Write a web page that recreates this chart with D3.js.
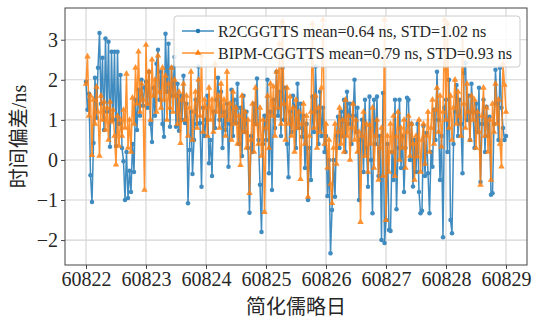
<!DOCTYPE html>
<html>
<head>
<meta charset="utf-8">
<script src="https://cdn.jsdelivr.net/npm/d3@7"></script>
<style>
  html, body { margin: 0; padding: 0; background: #fff; }
  svg text { font-family: "Liberation Serif", "Noto Sans CJK SC", serif; fill: #262626; }
</style>
</head>
<body>
<svg id="chart" width="533" height="322"></svg>
<script>
// Sampling: one value every 0.025 d (36 min), MJD 60822.000 .. 60829.000
const mjdStart = 60822;
const sampleStep = 0.025;

// Time deviation of the R2CGGTTS solution (ns)
const r2cggtts = [
  // 60822
  1.95, 1.25, 1.65, -0.38, -1.05, 0.42, 2.05, 1.05, 2.3, 3.17,
  1.4, 2.55, 0.75, 3.03, 1.2, 2.95, 0.33, 2.7, 1.0, 2.7,
  0.35, 2.7, 0.9, 2.12, 0.3, -0.03, -1.0, 0.2, -0.95, -0.27,
  -0.8, 0.4, -0.3, 1.5, 0.75, 1.75, 1.1, 2.0, 1.35, 1.8,
  // 60823
  1.95, 1.3, 2.2, 0.9, 0.45, 1.8, 1.1, 2.4, 2.75, 1.5,
  2.2, 0.9, 0.58, 3.15, 1.7, 2.9, 0.83, 2.3, 1.6, 2.57,
  0.83, 1.9, 0.73, 1.6, 1.0, 2.1, 0.92, 1.4, -1.08, 0.25,
  1.2, -0.35, 0.5, 1.5, 0.9, 2.33, 0.92, -0.67, 1.3, 0.6,
  // 60824
  1.0, 1.6, -0.08, 0.5, -0.4, 1.2, 0.8, 1.5, 2.05, 1.0,
  1.7, 0.3, 1.2, 0.75, 1.4, -0.17, 0.9, 1.75, 0.6, 1.5,
  0.92, 1.9, 0.4, 1.3, 0.1, 1.6, 0.7, 1.2, 0.3, -1.32,
  0.6, 0.2, 1.4, 0.9, 2.03, 0.5, -0.62, -1.8, 0.4, 1.1,
  // 60825
  0.5, 2.0, -0.33, 1.2, -0.75, 1.5, 0.8, 2.2, 1.1, 1.7,
  0.6, 2.3, 1.0, 1.8, 0.4, -0.43, 1.2, 0.7, 1.6, 1.33,
  0.3, 1.9, 0.8, 1.4, 0.58, 1.1, -0.2, 0.9, -1.0, 0.3,
  -0.5, 1.58, 0.7, 2.33, 1.2, 0.4, 1.7, 0.6, 1.3, 0.2,
  // 60826
  0.6, -0.9, 0.0, -2.33, -1.25, 0.0, -0.92, 0.6, 1.08, 0.3,
  1.2, 0.6, 1.5, 0.2, 1.7, 0.9, 1.4, 0.4, 1.1, 2.0,
  0.7, 1.3, -1.0, 0.5, 1.0, -0.3, 1.5, 0.3, -0.67, 1.58,
  0.0, -1.33, 1.5, 0.4, 1.58, -0.4, 0.6, -2.0, 1.67, -2.07,
  // 60827
  -1.5, 0.4, -1.75, -1.77, 0.2, -0.5, 1.5, -1.23, 0.3, 1.5,
  -0.2, 0.6, -0.8, 0.3, 1.55, 1.5, 0.0, 0.9, -0.66, 0.5,
  -0.3, 0.9, -0.8, -1.33, -1.27, 0.85, -0.4, 0.67, -0.33, -1.33,
  0.2, -0.17, 1.25, 0.5, 2.2, 1.0, -0.5, 0.6, -1.93, 1.3,
  // 60828
  1.5, 0.2, 2.0, -1.5, -1.83, 0.4, 1.2, 1.87, 0.6, 1.5,
  0.9, -0.33, 2.17, 2.42, 1.0, 1.6, 0.5, 1.9, 1.2, 0.3,
  1.4, 0.7, 1.8, -0.55, 0.9, 1.5, 0.2, 1.33, 0.6, 1.08,
  -0.87, -0.83, 0.9, 2.25, 1.4, 0.5, 2.3, 1.3, 0.8, 0.5,
  // 60829
  0.6
];

// Time deviation of the BIPM CGGTTS files (ns)
const bipmCggtts = [
  // 60822
  1.9, 2.58, 1.1, 1.6, 0.12, 1.5, 0.9, 1.82, 1.2, 0.1,
  1.6, 1.0, 1.45, 0.75, 1.3, 0.5, 1.45, 0.95, 1.25, 0.6,
  -0.12, 1.1, 0.35, 1.0, 0.6, 1.25, 0.8, 2.15, 0.3, 1.0,
  0.2, 1.55, 0.9, 2.3, 1.4, 2.7, 1.2, 1.9, 1.5, -0.75,
  // 60823
  2.87, 1.4, 2.2, 1.0, 2.5, 1.6, 2.0, 1.2, 2.6, 1.7,
  1.3, 2.3, 1.5, 2.1, 1.0, 1.9, 1.3, 2.3, 1.2, 2.0,
  1.6, 0.9, 1.7, 0.42, 1.5, 1.9, 1.0, 1.6, 0.6, 1.3,
  2.2, 0.5, 1.2, 1.7, 0.8, 2.0, 1.1, 2.6, 0.7, 1.5,
  // 60824
  1.3, 0.6, 1.8, 1.0, 1.5, 0.7, 2.4, 1.2, 1.6, 0.8,
  1.9, 1.1, 1.5, 0.6, 2.2, 1.0, 1.4, 0.5, 1.7, 0.9,
  1.3, 0.4, 1.1, -0.13, 1.6, 0.7, 1.2, 0.3, 1.0, -0.83,
  0.5, 1.4, 0.2, 1.8, 0.9, 0.4, 1.3, 0.1, 1.0, -1.3,
  // 60825
  0.8, 1.6, 0.3, 1.9, 1.1, 1.83, 0.6, 2.2, 1.3, 2.9,
  0.9, 3.45, 1.4, 0.5, 1.8, 0.9, 1.58, 0.6, 1.3, 0.2,
  1.5, 0.8, 1.2, -0.48, 0.9, 1.4, 0.4, 1.1, -0.92, 0.6,
  1.2, 3.4, 0.8, 1.6, 0.3, 1.3, 0.7, 1.8, 3.5, 0.4,
  // 60826
  0.9, -0.2, 0.5, -0.6, -1.08, 0.3, 0.9, -0.1, 0.7, 1.3,
  0.4, 1.0, 0.2, 1.5, 0.6, 1.1, 0.0, 0.8, 1.4, 0.5,
  1.0, 0.2, 0.7, -1.55, 0.6, 1.2, 0.1, 0.9, -0.3, 0.87,
  0.4, 1.3, -0.2, 0.6, 1.0, -0.5, 0.3, 0.8, -0.4, 3.5,
  // 60827
  -1.5, 0.6, -0.3, 0.9, 0.2, 1.1, -0.4, 0.58, 1.2, 0.0,
  0.8, 0.3, 1.0, -0.2, 0.7, 1.1, 0.1, 0.9, 0.4, -0.5,
  0.6, 0.08, 1.0, -0.3, 0.5, 0.9, -0.1, 0.6, 1.2, 0.2,
  0.8, 1.5, 0.4, 1.25, 1.8, 0.7, 1.6, 0.33, 1.2, 3.5,
  // 60828
  1.0, 3.4, 0.8, 1.6, 0.5, 1.3, 2.0, 0.9, 1.7, 1.1,
  0.6, 3.3, 1.4, 0.8, 1.9, 1.2, 0.5, 1.6, 1.0, 1.5,
  0.3, 1.2, 0.7, -0.62, 1.1, 1.8, 0.6, 1.3, 0.2, 1.0,
  -0.5, 1.4, 0.7, 1.9, 0.9, 1.5, 0.4, -0.17, 2.4, 1.87,
  // 60829
  1.2
];

const xTicks = [60822, 60823, 60824, 60825, 60826, 60827, 60828, 60829];
const yTicks = [-2, -1, 0, 1, 2, 3];

const seriesNames = ["R2CGGTTS", "BIPM-CGGTTS"];
const seriesMeans = [0.64, 0.79];
const seriesStds = [1.02, 0.93];
const seriesColors = ["#1f77b4", "#ff7f0e"];

const xLabel = "简化儒略日";
const yLabel = "时间偏差/ns";

// ---- layout ----
const W = 533, H = 322;
const plot = { left: 65, right: 527, top: 8, bottom: 265 };

const svg = d3.select("#chart");

const toPoints = vals => vals.map((v, i) => ({ x: mjdStart + i * sampleStep, y: v }));
const series = [toPoints(r2cggtts), toPoints(bipmCggtts)];

// Domain padded by 5% on each side of the data range
const allX = series.flat().map(d => d.x);
const allY = series.flat().map(d => d.y);
const pad = (ext) => { const r = ext[1] - ext[0]; return [ext[0] - 0.05 * r, ext[1] + 0.05 * r]; };

const x = d3.scaleLinear().domain(pad(d3.extent(allX))).range([plot.left, plot.right]);
const y = d3.scaleLinear().domain(pad(d3.extent(allY))).range([plot.bottom, plot.top]);

// plot background
svg.append("rect")
  .attr("x", plot.left).attr("y", plot.top)
  .attr("width", plot.right - plot.left).attr("height", plot.bottom - plot.top)
  .attr("fill", "#fff");

// grid
const grid = svg.append("g").attr("stroke", "#d3d3d3").attr("stroke-width", 1.1);
grid.selectAll("line.gx").data(xTicks).join("line")
  .attr("x1", d => x(d)).attr("x2", d => x(d))
  .attr("y1", plot.top).attr("y2", plot.bottom);
grid.selectAll("line.gy").data(yTicks).join("line")
  .attr("x1", plot.left).attr("x2", plot.right)
  .attr("y1", d => y(d)).attr("y2", d => y(d));

// clip for the data
svg.append("clipPath").attr("id", "plotClip")
  .append("rect")
  .attr("x", plot.left).attr("y", plot.top)
  .attr("width", plot.right - plot.left).attr("height", plot.bottom - plot.top);

const line = d3.line().x(d => x(d.x)).y(d => y(d.y));
const dataG = svg.append("g").attr("clip-path", "url(#plotClip)");

const circleSym = d3.symbol().type(d3.symbolCircle).size(16);
const triSym = d3.symbol().type(d3.symbolTriangle).size(18);

series.forEach((pts, k) => {
  const g = dataG.append("g").attr("opacity", 0.85);
  g.append("path")
    .datum(pts)
    .attr("fill", "none")
    .attr("stroke", seriesColors[k])
    .attr("stroke-width", 1.5)
    .attr("stroke-linejoin", "round")
    .attr("d", line);
  g.selectAll("path.m").data(pts).join("path")
    .attr("class", "m")
    .attr("transform", d => `translate(${x(d.x)},${y(d.y)})`)
    .attr("d", k === 0 ? circleSym : triSym)
    .attr("fill", seriesColors[k]);
});

// axes
const fontSize = 20;
const xAxis = d3.axisBottom(x).tickValues(xTicks).tickFormat(d3.format("d")).tickSize(4).tickPadding(3);
const yAxis = d3.axisLeft(y).tickValues(yTicks)
  .tickFormat(d => (d < 0 ? "\u2212" + Math.abs(d) : String(d))).tickSize(4).tickPadding(3);

const gx = svg.append("g").attr("transform", `translate(0,${plot.bottom})`).call(xAxis);
const gy = svg.append("g").attr("transform", `translate(${plot.left},0)`).call(yAxis);
[gx, gy].forEach(g => {
  g.select(".domain").remove();
  g.selectAll(".tick line").attr("stroke", "#444").attr("stroke-width", 1);
  g.selectAll(".tick text").attr("font-size", fontSize).attr("fill", "#262626")
    .style("font-family", '"Liberation Serif", serif');
});

// frame
svg.append("rect")
  .attr("x", plot.left).attr("y", plot.top)
  .attr("width", plot.right - plot.left).attr("height", plot.bottom - plot.top)
  .attr("fill", "none").attr("stroke", "#444").attr("stroke-width", 1);

// axis titles
svg.append("text")
  .attr("x", (plot.left + plot.right) / 2).attr("y", 314)
  .attr("text-anchor", "middle")
  .attr("font-size", 20)
  .style("font-family", '"Noto Sans CJK SC", sans-serif')
  .text(xLabel);

svg.append("text")
  .attr("transform", `translate(26,${(plot.top + plot.bottom) / 2}) rotate(-90)`)
  .attr("text-anchor", "middle")
  .attr("font-size", 20)
  .style("font-family", '"Liberation Serif", "Noto Sans CJK SC", serif')
  .text(yLabel);

// legend
const leg = svg.append("g").attr("transform", "translate(174,16)");
leg.append("rect")
  .attr("width", 346).attr("height", 51).attr("rx", 3)
  .attr("fill", "#fff").attr("fill-opacity", 0.85)
  .attr("stroke", "#cccccc").attr("stroke-width", 1);

seriesNames.forEach((name, k) => {
  const cy = 15 + k * 22;
  const row = leg.append("g").attr("transform", `translate(0,${cy})`);
  row.append("line")
    .attr("x1", 8).attr("x2", 40).attr("y1", 0).attr("y2", 0)
    .attr("stroke", seriesColors[k]).attr("stroke-width", 1.5).attr("opacity", 0.85);
  row.append("path")
    .attr("transform", "translate(24,0)")
    .attr("d", k === 0 ? circleSym : triSym)
    .attr("fill", seriesColors[k]);
  row.append("text")
    .attr("x", 44).attr("y", 0).attr("dy", "0.35em")
    .attr("font-size", 16)
    .text(`${name} mean=${seriesMeans[k].toFixed(2)} ns, STD=${seriesStds[k].toFixed(2)} ns`);
});
</script>
</body>
</html>
